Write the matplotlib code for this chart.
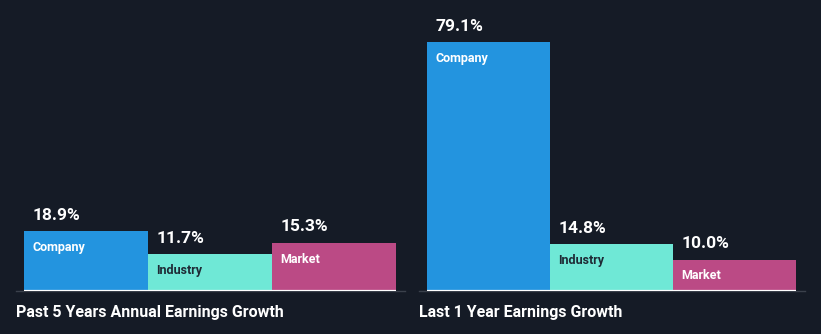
import numpy as np
import matplotlib.pyplot as plt

categories = ['Company', 'Industry', 'Market']
past_5y = [18.9, 11.7, 15.3]
last_1y = [79.1, 14.8, 10.0]
panel_titles = ['Past 5 Years Annual Earnings Growth', 'Last 1 Year Earnings Growth']

bg = '#151b26'
bar_colors = ['#2394df', '#6fe8d6', '#bb4a85']
name_colors = ['white', '#1e2a35', 'white']

plt.rcParams['font.family'] = ['Roboto', 'DejaVu Sans']

fig = plt.figure(figsize=(8.21, 3.34), dpi=100, facecolor=bg)
W, H = 821, 334
base = 291          # pixel row of the zero line
top = 20
ymax = (base - top) / 3.15

panels = [(16, 405, past_5y), (419, 805, last_1y)]
for (x0, x1, vals), title in zip(panels, panel_titles):
    ax = fig.add_axes([x0 / W, (H - base) / H, (x1 - x0) / W, (base - top) / H])
    ax.set_facecolor(bg)
    x = np.arange(len(categories))
    ax.bar(x, vals, width=1.0, align='center', color=bar_colors, linewidth=0)
    ax.hlines(0, -0.5, 2.5, color='white', lw=1.6, zorder=3)
    ax.set_xlim(-0.5 - 8 / 123.7, 2.5 + 9 / 123.7)
    ax.set_ylim(0, ymax)
    for s in ['top', 'left', 'right']:
        ax.spines[s].set_visible(False)
    ax.spines['bottom'].set_color('#3b414c')
    ax.spines['bottom'].set_linewidth(1.0)
    ax.set_xticks([])
    ax.set_yticks([])
    for i, v in enumerate(vals):
        ax.annotate(f'{v:.1f}%', xy=(i - 0.5, v), xytext=(6.5, 6),
                    textcoords='offset points', ha='left', va='bottom',
                    color='white', fontsize=12.5, fontweight='bold')
        ax.annotate(categories[i], xy=(i - 0.5, v), xytext=(6, -7),
                    textcoords='offset points', ha='left', va='top',
                    color=name_colors[i], fontsize=9, fontweight='bold')
    fig.text(x0 / W, (H - 312) / H, title, ha='left', va='center',
             color='white', fontsize=11.5, fontweight='bold')

fig.savefig('out.png', dpi=100, facecolor=bg)
